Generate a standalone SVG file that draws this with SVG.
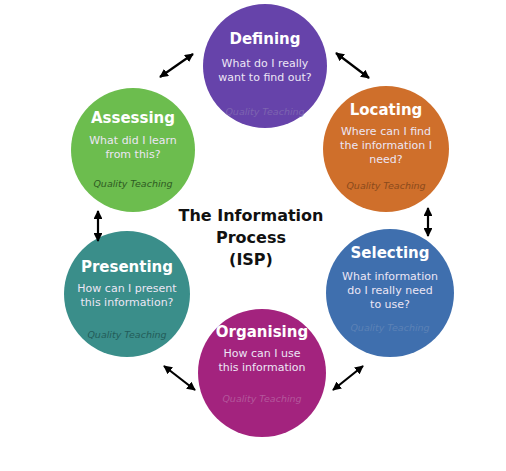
<svg xmlns="http://www.w3.org/2000/svg" width="506" height="471" viewBox="0 0 506 471">
<defs>
<marker id="ah" viewBox="0 0 10 10" refX="9" refY="5" markerWidth="4" markerHeight="4" orient="auto-start-reverse">
<path d="M0,0 L10,5 L0,10 z" fill="#000"/>
</marker>
<style>
.t{font-family:"DejaVu Sans",Verdana,sans-serif;font-weight:bold;font-size:15px;fill:#fff;text-anchor:middle}
.s{font-family:"DejaVu Sans",Verdana,sans-serif;font-size:11px;fill:#ece6f5;text-anchor:middle}
.q{font-family:"DejaVu Sans",Verdana,sans-serif;font-style:italic;font-size:9.5px;text-anchor:middle}
.c{font-family:"DejaVu Sans",Verdana,sans-serif;font-weight:bold;font-size:16px;fill:#111;text-anchor:middle}
.a{stroke:#000;stroke-width:2.2;fill:none;marker-start:url(#ah);marker-end:url(#ah)}
</style>
</defs>
<rect width="506" height="471" fill="#fff"/>
<g id="defining">
<circle cx="265" cy="66" r="62" fill="#6643aa"/>
<text class="t" x="265" y="44">Defining</text>
<text class="s" x="265" y="67">What do I really</text>
<text class="s" x="265" y="81">want to find out?</text>
<text class="q" x="265" y="115" fill="#7d64b0">Quality Teaching</text>
</g>
<g id="locating">
<circle cx="386" cy="149" r="63" fill="#cf6f2b"/>
<text class="t" x="386" y="115">Locating</text>
<text class="s" x="386" y="135" fill="#f5e5d5">Where can I find</text>
<text class="s" x="386" y="149" fill="#f5e5d5">the information I</text>
<text class="s" x="386" y="163" fill="#f5e5d5">need?</text>
<text class="q" x="386" y="189" fill="#8a4a1c">Quality Teaching</text>
</g>
<g id="selecting">
<circle cx="390" cy="293" r="64" fill="#3f6fae"/>
<text class="t" x="390" y="258">Selecting</text>
<text class="s" x="390" y="280" fill="#e3ebf5">What information</text>
<text class="s" x="390" y="294" fill="#e3ebf5">do I really need</text>
<text class="s" x="390" y="308" fill="#e3ebf5">to use?</text>
<text class="q" x="390" y="331" fill="#5c82b6">Quality Teaching</text>
</g>
<g id="organising">
<circle cx="262" cy="373" r="64" fill="#a3237e"/>
<text class="t" x="262" y="337">Organising</text>
<text class="s" x="262" y="357" fill="#f2e2ee">How can I use</text>
<text class="s" x="262" y="371" fill="#f2e2ee">this information</text>
<text class="q" x="262" y="402" fill="#b4579c">Quality Teaching</text>
</g>
<g id="presenting">
<circle cx="127" cy="294" r="63" fill="#3a8e8a"/>
<text class="t" x="127" y="272">Presenting</text>
<text class="s" x="127" y="292" fill="#e4f2f1">How can I present</text>
<text class="s" x="127" y="306" fill="#e4f2f1">this information?</text>
<text class="q" x="127" y="338" fill="#235c59">Quality Teaching</text>
</g>
<g id="assessing">
<circle cx="133" cy="150" r="62" fill="#6cbd4e"/>
<text class="t" x="133" y="123">Assessing</text>
<text class="s" x="133" y="144" fill="#effae8">What did I learn</text>
<text class="s" x="133" y="158" fill="#effae8">from this?</text>
<text class="q" x="133" y="187" fill="#2e5a22">Quality Teaching</text>
</g>
<g id="title">
<text class="c" x="251" y="221">The Information</text>
<text class="c" x="251" y="243">Process</text>
<text class="c" x="251" y="265">(ISP)</text>
</g>
<g id="connectors">
<line class="a" x1="160" y1="77" x2="193" y2="54"/>
<line class="a" x1="336" y1="53" x2="369" y2="78"/>
<line class="a" x1="428" y1="208" x2="428" y2="236"/>
<line class="a" x1="363" y1="366" x2="333" y2="390"/>
<line class="a" x1="164" y1="366" x2="195" y2="390"/>
<line class="a" x1="98" y1="211" x2="98" y2="241"/>
</g>
</svg>
